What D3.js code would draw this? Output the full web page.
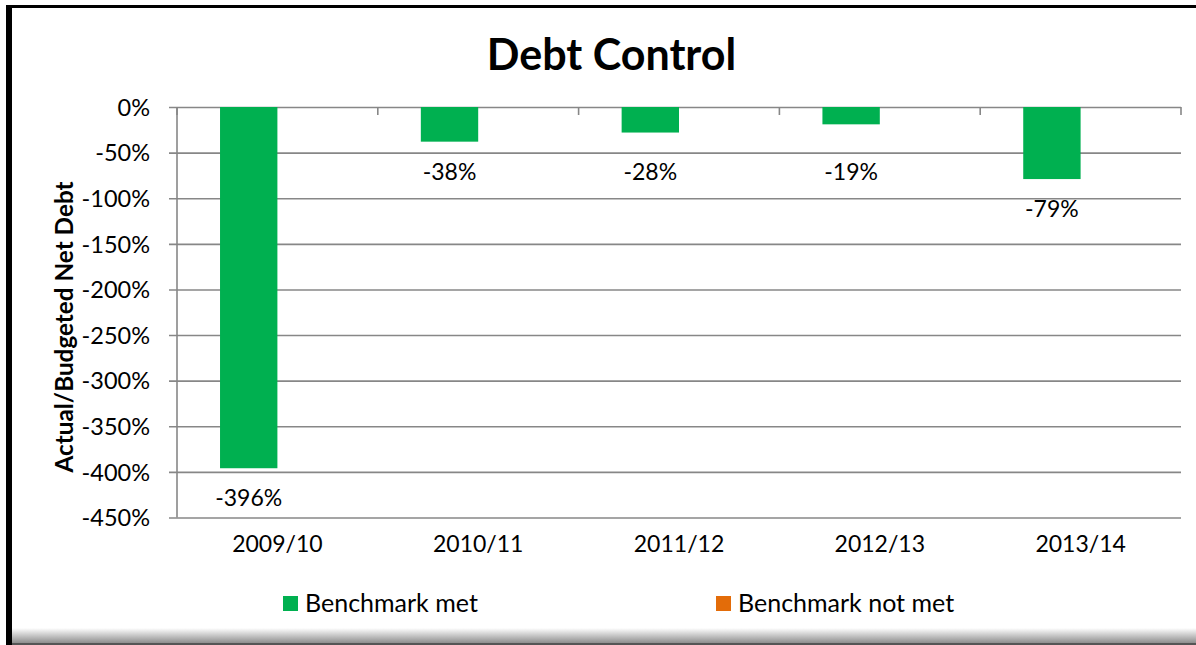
<!DOCTYPE html>
<html>
<head>
<meta charset="utf-8">
<script src="https://cdn.jsdelivr.net/npm/d3@7"></script>
<style>
  html, body { margin: 0; padding: 0; background: #fff; }
  svg { display: block; }
  text { font-family: Lato, "Open Sans", sans-serif; fill: #000; }
</style>
</head>
<body>
<svg id="chart" width="1196" height="645"></svg>
<script>
// Chart data
const categories = ["2009/10", "2010/11", "2011/12", "2012/13", "2013/14"];
const benchmarkMet = [-396, -38, -28, -19, -79];
const benchmarkNotMet = [null, null, null, null, null];
const yTicks = [0, -50, -100, -150, -200, -250, -300, -350, -400, -450];
const seriesNames = ["Benchmark met", "Benchmark not met"];
const seriesColors = ["#00B050", "#E36C09"];

const W = 1196, H = 645;
const plot = { left: 177, right: 1181, top: 107, bottom: 517.5 };
const gapWidth = 1.5; // gap between clusters, as a fraction of one bar's width

const svg = d3.select("#chart");

// Frame: heavy left and top rules, soft shadow along the bottom
const defs = svg.append("defs");
const grad = defs.append("linearGradient")
  .attr("id", "bottomShade").attr("x1", 0).attr("x2", 0).attr("y1", 0).attr("y2", 1);
grad.append("stop").attr("offset", "0%").attr("stop-color", "#ffffff");
grad.append("stop").attr("offset", "100%").attr("stop-color", "#8e8e8e");

svg.append("rect").attr("x", 12).attr("y", 628).attr("width", W - 12).attr("height", 15)
  .attr("fill", "url(#bottomShade)");
svg.append("rect").attr("x", 12).attr("y", 643).attr("width", W - 12).attr("height", 2)
  .attr("fill", "#555");
svg.append("rect").attr("x", 6).attr("y", 5).attr("width", 6).attr("height", H - 5).attr("fill", "#000");
svg.append("rect").attr("x", 6).attr("y", 5).attr("width", W - 6).attr("height", 3).attr("fill", "#000");

// Scales
const x = d3.scaleBand().domain(categories).range([plot.left, plot.right]).padding(0);
const bw = x.bandwidth();
const barW = bw / (seriesNames.length + gapWidth);
const x1 = d3.scaleBand().domain(seriesNames)
  .range([bw / 2 - barW * seriesNames.length / 2, bw / 2 + barW * seriesNames.length / 2]);
const y = d3.scaleLinear().domain([-450, 0]).range([plot.bottom, plot.top]);

const gridColor = "#878787";

// Horizontal gridlines with left ticks
const yAxis = d3.axisLeft(y).tickValues(yTicks).tickSize(-(plot.right - plot.left)).tickFormat(d => d + "%");
const gy = svg.append("g").attr("transform", `translate(${plot.left},0)`).call(yAxis);
gy.select(".domain").remove();
gy.selectAll(".tick line").attr("stroke", gridColor).attr("stroke-width", 1.6)
  .attr("x1", -8);
gy.selectAll(".tick text").attr("x", -27).attr("dy", "0.35em")
  .style("font-size", "23.5px").attr("fill", "#000");

// Vertical axis line
svg.append("line").attr("x1", plot.left).attr("x2", plot.left)
  .attr("y1", plot.top).attr("y2", plot.bottom)
  .attr("stroke", gridColor).attr("stroke-width", 1.6);

// Category axis sits at zero (top), with boundary ticks pointing down
const boundaries = categories.map(c => x(c)).concat([plot.right]);
svg.append("g").selectAll("line").data(boundaries).join("line")
  .attr("x1", d => d).attr("x2", d => d)
  .attr("y1", y(0)).attr("y2", y(0) + 8)
  .attr("stroke", gridColor).attr("stroke-width", 1.6);

// Category labels below the plot
svg.append("g").selectAll("text").data(categories).join("text")
  .attr("x", d => x(d) + bw / 2).attr("y", 552)
  .attr("text-anchor", "middle").style("font-size", "23px")
  .text(d => d);

// Bars
const series = [benchmarkMet, benchmarkNotMet];
const labelFloor = y(-50) + 27; // short bars keep their labels clear of the first gridline
series.forEach((vals, si) => {
  const data = categories.map((c, i) => ({ c, v: vals[i] })).filter(d => d.v !== null);
  svg.append("g").selectAll("rect").data(data).join("rect")
    .attr("x", d => x(d.c) + x1(seriesNames[si]))
    .attr("width", x1.bandwidth())
    .attr("y", d => Math.min(y(d.v), y(0)))
    .attr("height", d => Math.abs(y(d.v) - y(0)))
    .attr("fill", seriesColors[si]);
  // Value labels beneath each bar end
  svg.append("g").selectAll("text").data(data).join("text")
    .attr("x", d => x(d.c) + x1(seriesNames[si]) + x1.bandwidth() / 2)
    .attr("y", d => Math.max(y(d.v) + 38, labelFloor))
    .attr("text-anchor", "middle").style("font-size", "23px")
    .text(d => d.v + "%");
});

// Title
svg.append("text").attr("x", 611.5).attr("y", 70).attr("text-anchor", "middle")
  .style("font-size", "43px").style("font-weight", "bold").text("Debt Control");

// Y axis title
svg.append("text").attr("transform", "translate(73,327) rotate(-90)")
  .attr("text-anchor", "middle").style("font-size", "24.3px").style("font-weight", "bold")
  .text("Actual/Budgeted Net Debt");

// Legend
const legendX = [283, 716];
const lg = svg.append("g").selectAll("g").data(seriesNames).join("g")
  .attr("transform", (d, i) => `translate(${legendX[i]},596)`);
lg.append("rect").attr("width", 15).attr("height", 15).attr("fill", (d, i) => seriesColors[i]);
lg.append("text").attr("x", 22).attr("y", 16).style("font-size", "25px").text(d => d);
</script>
</body>
</html>
